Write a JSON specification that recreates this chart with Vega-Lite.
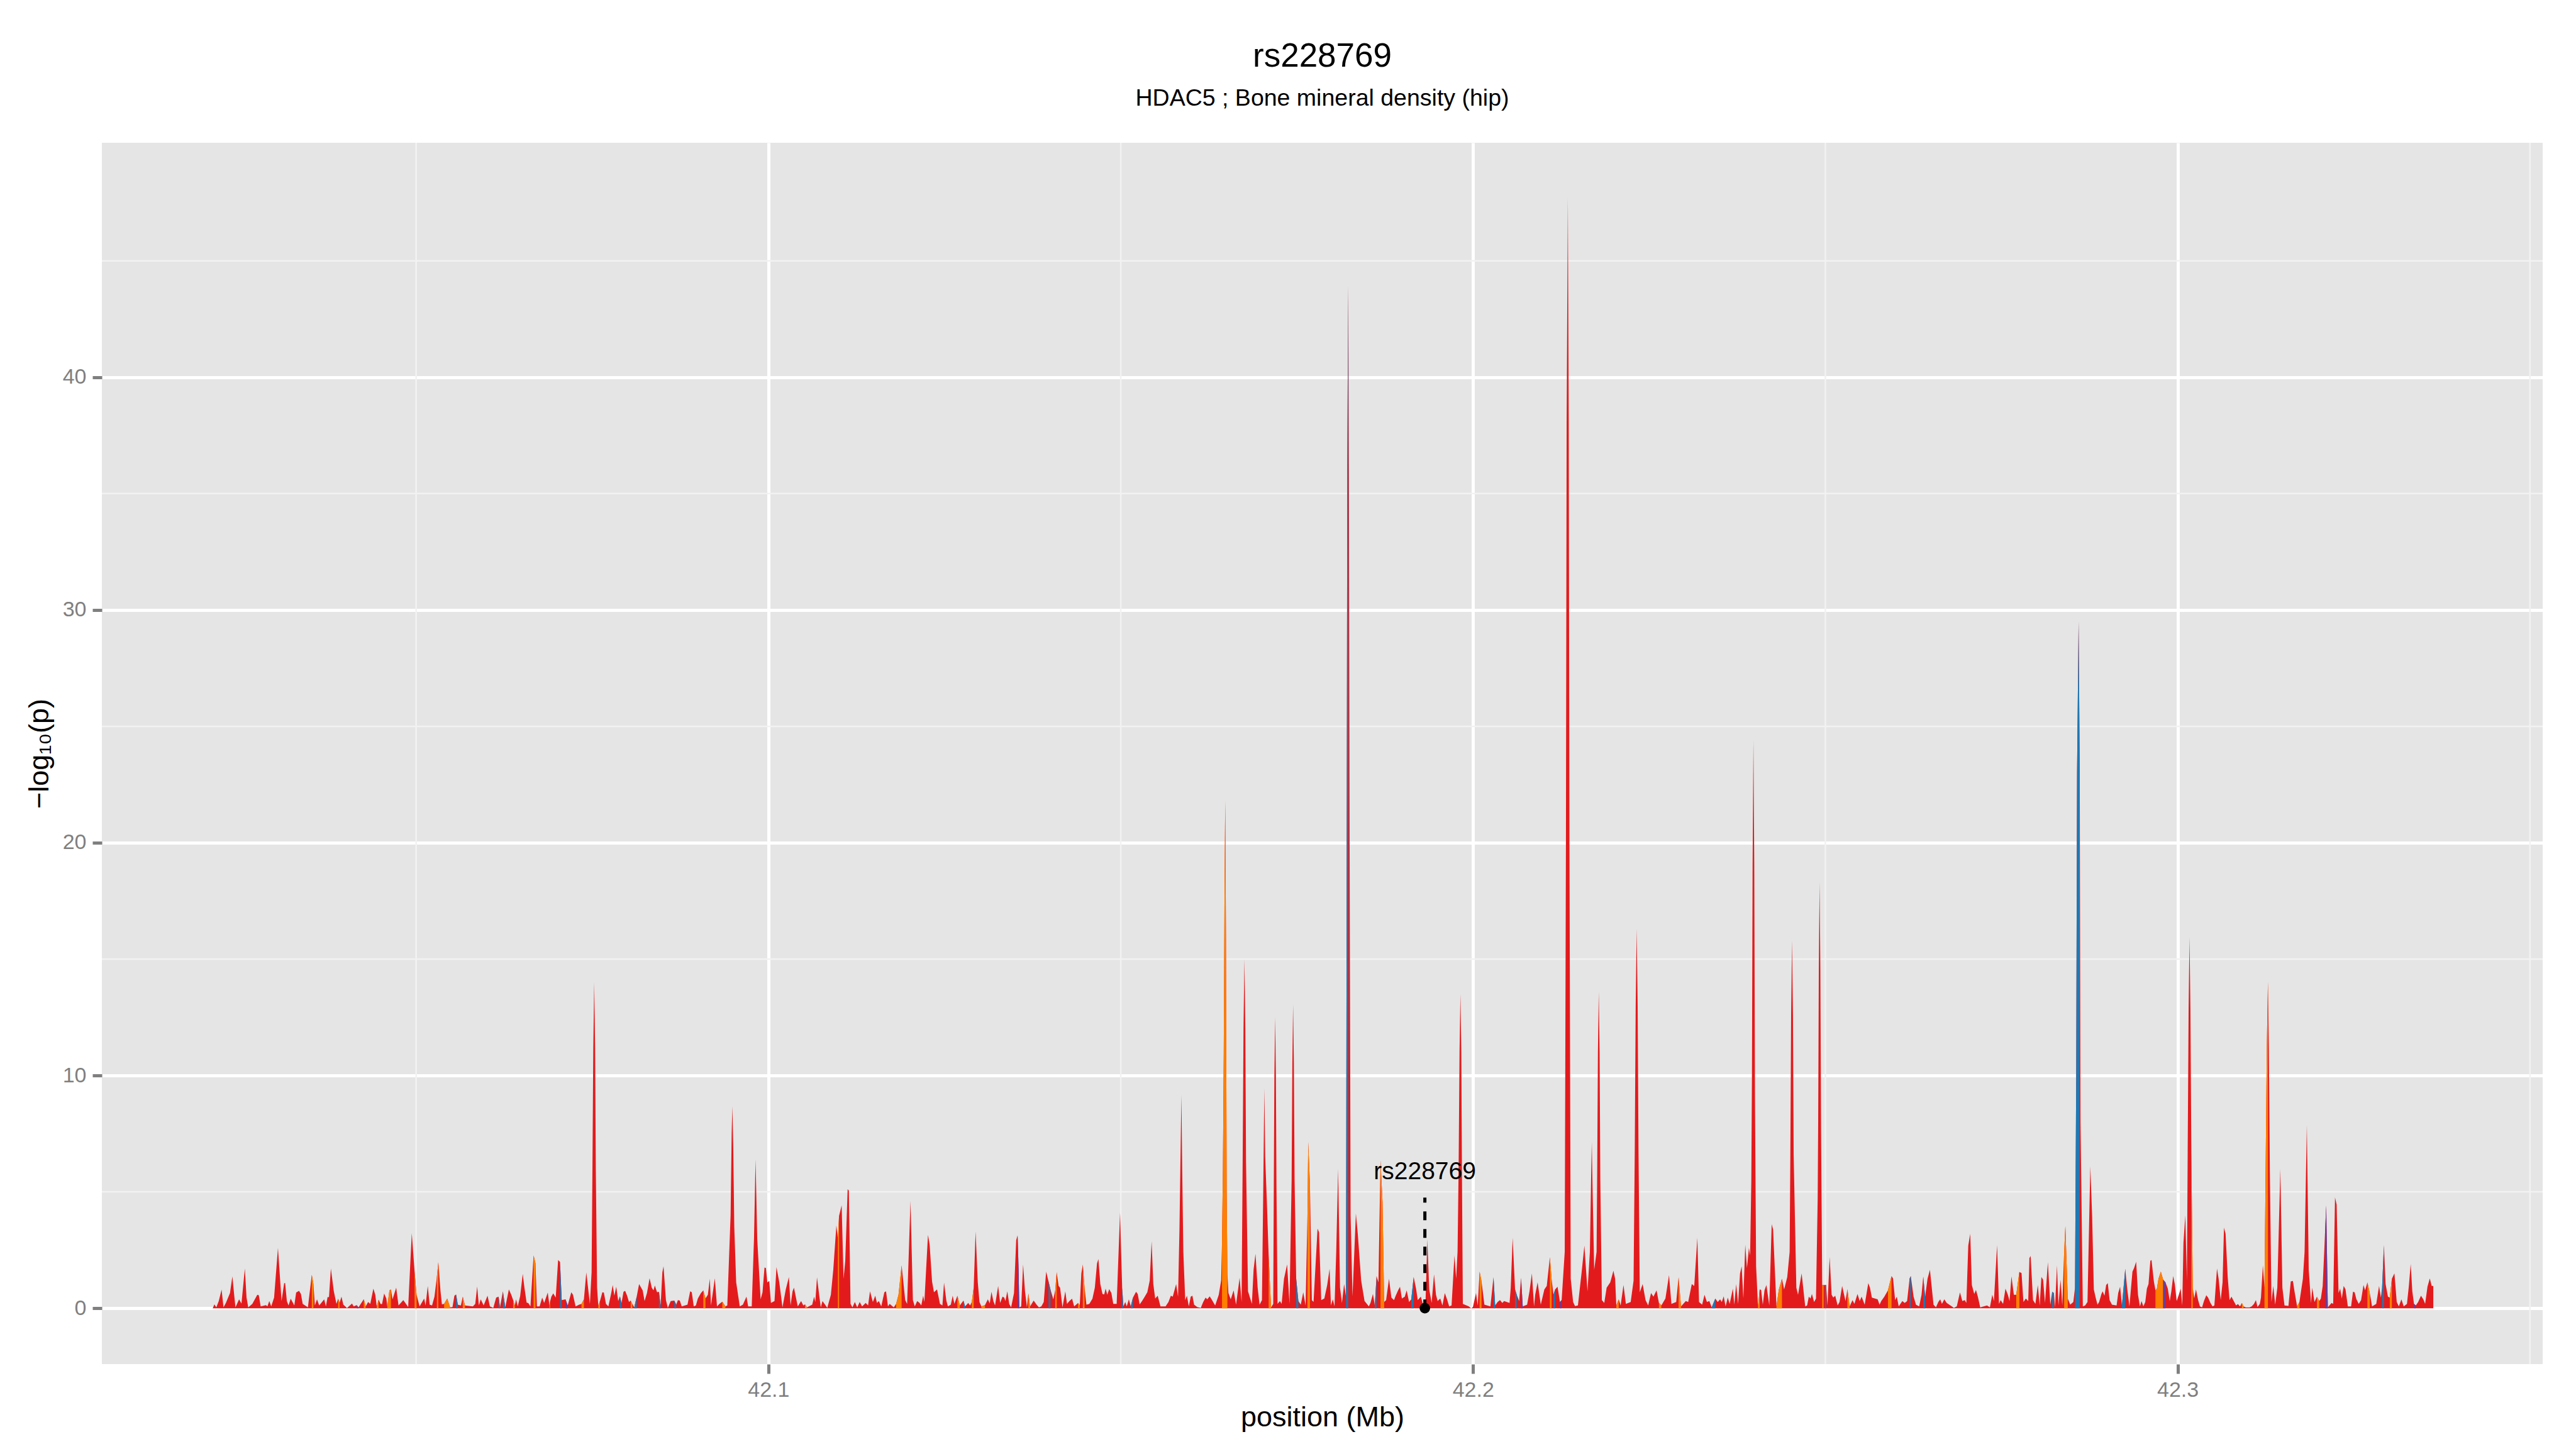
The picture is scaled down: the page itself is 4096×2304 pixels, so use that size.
{
"$schema":"https://vega.github.io/schema/vega-lite/v6.json",
"width":3881,"height":1942,
"autosize":{"type":"none"},
"padding":{"left":162,"top":227,"right":53,"bottom":135},
"background":"#FFFFFF",
"config":{"view":{"fill":"#E5E5E5","stroke":null},"font":"Liberation Sans"},
"title":{"text":"rs228769","subtitle":"HDAC5 ; Bone mineral density (hip)","anchor":"middle","frame":"group","font":"Liberation Sans","subtitleFont":"Liberation Sans","fontSize":53,"subtitleFontSize":37.5,"fontWeight":"normal","subtitleFontWeight":"normal","color":"#000000","subtitleColor":"#000000","offset":50,"subtitlePadding":21},
"datasets":{
"gx":[{"v":42.05},{"v":42.15},{"v":42.25},{"v":42.35}],
"gy":[{"v":5},{"v":15},{"v":25},{"v":35},{"v":45}],
"ann":[{"x":42.19316,"y":0,"y2":4.75,"ty":5.55,"label":"rs228769"}],
"main":[
{"x":42.02113,"y":0},{"x":42.02137,"y":0.17},{"x":42.02164,"y":0.04},{"x":42.02198,"y":0.3},{"x":42.02239,"y":0.8},{"x":42.02266,"y":0.04},{"x":42.023,"y":0.23},{"x":42.02358,"y":0.65},{"x":42.02392,"y":1.37},{"x":42.0242,"y":0.5},{"x":42.02436,"y":0.04},{"x":42.02487,"y":0.38},{"x":42.02521,"y":0.2},{"x":42.02569,"y":1.71},{"x":42.02593,"y":0.46},{"x":42.02617,"y":0.04},{"x":42.02675,"y":0.19},{"x":42.02746,"y":0.58},{"x":42.02767,"y":0.56},{"x":42.02794,"y":0.08},{"x":42.02869,"y":0.13},{"x":42.02889,"y":0.08},{"x":42.02916,"y":0.31},{"x":42.02943,"y":0.08},{"x":42.02984,"y":0.46},{"x":42.03039,"y":2.59},{"x":42.0309,"y":0.31},{"x":42.03127,"y":1.08},{"x":42.03141,"y":1.08},{"x":42.03165,"y":0.31},{"x":42.03189,"y":0.12},{"x":42.0322,"y":0.41},{"x":42.03271,"y":0.12},{"x":42.03297,"y":0.67},{"x":42.03338,"y":0.75},{"x":42.03365,"y":0.61},{"x":42.0339,"y":0.19},{"x":42.03464,"y":0.04},{"x":42.03519,"y":1.44},{"x":42.03542,"y":1.04},{"x":42.03563,"y":0.12},{"x":42.03593,"y":0.38},{"x":42.03624,"y":0.12},{"x":42.03695,"y":0.38},{"x":42.03719,"y":0.08},{"x":42.03743,"y":0.48},{"x":42.03763,"y":0.48},{"x":42.0379,"y":1.71},{"x":42.03831,"y":0.74},{"x":42.03869,"y":0.19},{"x":42.03893,"y":0.41},{"x":42.03913,"y":0.23},{"x":42.0394,"y":0.5},{"x":42.03967,"y":0.15},{"x":42.04019,"y":0.01},{"x":42.0409,"y":0.2},{"x":42.04114,"y":0.08},{"x":42.04155,"y":0.13},{"x":42.04182,"y":0.04},{"x":42.04257,"y":0.39},{"x":42.04284,"y":0.08},{"x":42.04318,"y":0.27},{"x":42.04349,"y":0.19},{"x":42.04393,"y":0.84},{"x":42.0442,"y":0.58},{"x":42.04441,"y":0.08},{"x":42.04468,"y":0.37},{"x":42.04495,"y":0.18},{"x":42.04516,"y":0.18},{"x":42.04546,"y":0.63},{"x":42.04577,"y":0.42},{"x":42.04591,"y":0.08},{"x":42.04621,"y":0.77},{"x":42.04642,"y":0.81},{"x":42.04665,"y":0.38},{"x":42.04717,"y":0.88},{"x":42.0475,"y":0.12},{"x":42.04818,"y":0.35},{"x":42.04887,"y":0.05},{"x":42.04938,"y":3.23},{"x":42.04978,"y":1.58},{"x":42.05006,"y":0.58},{"x":42.05049,"y":0.08},{"x":42.05114,"y":0.42},{"x":42.05134,"y":0.12},{"x":42.05165,"y":0.96},{"x":42.05192,"y":0.15},{"x":42.05226,"y":0.12},{"x":42.0526,"y":0.5},{"x":42.05294,"y":1.34},{"x":42.05315,"y":1.98},{"x":42.05346,"y":0.73},{"x":42.05366,"y":0.17},{"x":42.05397,"y":0.19},{"x":42.05441,"y":0.42},{"x":42.05482,"y":0.04},{"x":42.05516,"y":0.05},{"x":42.05543,"y":0.54},{"x":42.05567,"y":0.59},{"x":42.05591,"y":0.15},{"x":42.05635,"y":0.12},{"x":42.05662,"y":0.5},{"x":42.05693,"y":0.12},{"x":42.05805,"y":0.08},{"x":42.05839,"y":0.19},{"x":42.05866,"y":0.94},{"x":42.0589,"y":0.12},{"x":42.05917,"y":0.38},{"x":42.05958,"y":0.12},{"x":42.06013,"y":0.54},{"x":42.06047,"y":0.08},{"x":42.06095,"y":0.02},{"x":42.06136,"y":0.46},{"x":42.0617,"y":0.5},{"x":42.0619,"y":0.04},{"x":42.06231,"y":0.73},{"x":42.06265,"y":0.04},{"x":42.06316,"y":0.81},{"x":42.0635,"y":0.58},{"x":42.06377,"y":0.35},{"x":42.06401,"y":0.12},{"x":42.06418,"y":0.38},{"x":42.06442,"y":0.08},{"x":42.06476,"y":0.52},{"x":42.06513,"y":1.48},{"x":42.06537,"y":0.88},{"x":42.06568,"y":0.24},{"x":42.06592,"y":0.22},{"x":42.06622,"y":0.08},{"x":42.06667,"y":2.27},{"x":42.06694,"y":1.92},{"x":42.06714,"y":0.08},{"x":42.06752,"y":0.08},{"x":42.06789,"y":0.46},{"x":42.06817,"y":0.23},{"x":42.06868,"y":0.67},{"x":42.06892,"y":0.12},{"x":42.06902,"y":0.3},{"x":42.06919,"y":0.5},{"x":42.06946,"y":0.64},{"x":42.06981,"y":0.46},{"x":42.07015,"y":2.07},{"x":42.07042,"y":1.99},{"x":42.07066,"y":0.35},{"x":42.0712,"y":0.38},{"x":42.07151,"y":0.12},{"x":42.07202,"y":0.69},{"x":42.07226,"y":0.58},{"x":42.07263,"y":0.08},
{"x":42.07313,"y":0.15},{"x":42.07347,"y":0.19},{"x":42.07381,"y":0.38},{"x":42.07415,"y":1.54},{"x":42.07466,"y":0.19},{"x":42.0749,"y":1.54},{"x":42.07502,"y":6.0},{"x":42.07514,"y":11.2},{"x":42.07527,"y":14.0},{"x":42.0754,"y":11.2},{"x":42.0755,"y":6.0},{"x":42.07568,"y":0.88},{"x":42.07585,"y":0.12},{"x":42.07609,"y":0.31},{"x":42.07643,"y":0.69},{"x":42.07664,"y":0.67},{"x":42.07694,"y":0.19},{"x":42.07728,"y":0.08},{"x":42.07766,"y":0.61},{"x":42.0779,"y":1.0},{"x":42.07813,"y":0.54},{"x":42.0784,"y":0.92},{"x":42.07868,"y":0.31},{"x":42.07892,"y":0.51},{"x":42.07915,"y":0.23},{"x":42.07943,"y":0.71},{"x":42.07966,"y":0.75},{"x":42.07994,"y":0.54},{"x":42.08021,"y":0.27},{"x":42.08045,"y":0.33},{"x":42.08068,"y":0.19},{"x":42.08096,"y":0.04},{"x":42.0813,"y":0.5},{"x":42.08164,"y":1.04},{"x":42.08215,"y":0.77},{"x":42.08242,"y":0.31},{"x":42.08276,"y":0.65},{"x":42.08313,"y":1.29},{"x":42.08344,"y":0.88},{"x":42.08368,"y":0.77},{"x":42.08388,"y":0.98},{"x":42.08419,"y":0.69},{"x":42.08446,"y":0.71},{"x":42.0847,"y":0.12},{"x":42.08494,"y":1.54},{"x":42.08511,"y":1.8},{"x":42.08545,"y":0.35},{"x":42.08572,"y":0.02},{"x":42.08613,"y":0.31},{"x":42.08664,"y":0.33},{"x":42.08691,"y":0.15},{"x":42.08715,"y":0.35},{"x":42.08742,"y":0.33},{"x":42.08769,"y":0.08},{"x":42.08851,"y":0.15},{"x":42.08889,"y":0.73},{"x":42.08912,"y":0.69},{"x":42.0894,"y":0.08},{"x":42.0897,"y":0.12},{"x":42.08998,"y":0.42},{"x":42.09042,"y":0.65},{"x":42.09076,"y":0.77},{"x":42.09106,"y":0.42},{"x":42.0914,"y":0.58},{"x":42.09168,"y":1.27},{"x":42.09185,"y":0.12},{"x":42.09239,"y":1.29},{"x":42.0927,"y":0.08},{"x":42.09304,"y":0.19},{"x":42.09345,"y":0.28},{"x":42.09389,"y":0.08},{"x":42.09416,"y":0.12},{"x":42.09463,"y":4.0},{"x":42.09478,"y":7.5},{"x":42.09488,"y":8.68},{"x":42.095,"y":7.0},{"x":42.09515,"y":3.5},{"x":42.09542,"y":1.11},{"x":42.09593,"y":0.08},{"x":42.09637,"y":0.15},{"x":42.09688,"y":0.5},{"x":42.09712,"y":0.08},{"x":42.09763,"y":0.08},{"x":42.09795,"y":3.0},{"x":42.09817,"y":6.4},{"x":42.09841,"y":2.96},{"x":42.09889,"y":0.38},{"x":42.09916,"y":0.69},{"x":42.09944,"y":1.75},{"x":42.09964,"y":1.73},{"x":42.09984,"y":1.11},{"x":42.10012,"y":1.17},{"x":42.10035,"y":0.23},{"x":42.10086,"y":0.31},{"x":42.10114,"y":1.77},{"x":42.10154,"y":1.11},{"x":42.10199,"y":0.04},{"x":42.10246,"y":0.81},{"x":42.1029,"y":1.34},{"x":42.10314,"y":0.12},{"x":42.10342,"y":0.73},{"x":42.10362,"y":0.88},{"x":42.10416,"y":0.08},{"x":42.10464,"y":0.31},{"x":42.10495,"y":0.12},{"x":42.10519,"y":0.17},{"x":42.10546,"y":0.04},{"x":42.10621,"y":0.15},{"x":42.10648,"y":0.5},{"x":42.10665,"y":0.27},{"x":42.10689,"y":1.33},{"x":42.10723,"y":0.5},{"x":42.10743,"y":0.04},{"x":42.10767,"y":0.31},{"x":42.10835,"y":0.02},{"x":42.10886,"y":0.58},{"x":42.1092,"y":1.65},{"x":42.10964,"y":3.56},{"x":42.10985,"y":3.0},{"x":42.11002,"y":3.96},{"x":42.11039,"y":4.42},{"x":42.11066,"y":1.27},{"x":42.1109,"y":2.04},{"x":42.11124,"y":5.12},{"x":42.11141,"y":5.05},{"x":42.11165,"y":0.19},{"x":42.11192,"y":0.04},{"x":42.11226,"y":0.27},{"x":42.1126,"y":0.04},{"x":42.11295,"y":0.27},{"x":42.11329,"y":0.08},{"x":42.1138,"y":0.23},{"x":42.11414,"y":0.12},{"x":42.11441,"y":0.73},{"x":42.11482,"y":0.27},{"x":42.11516,"y":0.54},{"x":42.1154,"y":0.23},{"x":42.11567,"y":0.31},{"x":42.11601,"y":0.08},{"x":42.11645,"y":0.69},{"x":42.11669,"y":0.73},{"x":42.11696,"y":0.08},{"x":42.1172,"y":0.19},{"x":42.11778,"y":0.04},{"x":42.11812,"y":0.19},{"x":42.11846,"y":0.58},{"x":42.1189,"y":1.84},{"x":42.11941,"y":0.35},{"x":42.11968,"y":0.19},{"x":42.12016,"y":4.61},{"x":42.1205,"y":0.35},{"x":42.12077,"y":0.08},{"x":42.12111,"y":0.31},{"x":42.12145,"y":0.23},{"x":42.12169,"y":0.12},{"x":42.12196,"y":0.54},{"x":42.12213,"y":0.27},{"x":42.12264,"y":3.15},{"x":42.12288,"y":2.73},{"x":42.12322,"y":1.15},{"x":42.12349,"y":0.69},{"x":42.12393,"y":0.81},{"x":42.12434,"y":0.19},{"x":42.12469,"y":0.12},{"x":42.12492,"y":1.1},{"x":42.12526,"y":0.31},{"x":42.12547,"y":0.08},{"x":42.12588,"y":0.15},{"x":42.12615,"y":0.54},{"x":42.12639,"y":0.19},
{"x":42.12648,"y":0.27},{"x":42.12682,"y":0.54},{"x":42.12716,"y":0.12},{"x":42.12767,"y":0.33},{"x":42.12791,"y":0.08},{"x":42.12835,"y":0.23},{"x":42.12862,"y":0.12},{"x":42.12886,"y":0.27},{"x":42.12913,"y":0.88},{"x":42.1294,"y":3.3},{"x":42.12971,"y":1.11},{"x":42.12995,"y":0.27},{"x":42.13022,"y":0.08},{"x":42.13073,"y":0.13},{"x":42.13114,"y":0.38},{"x":42.13141,"y":0.21},{"x":42.13165,"y":0.71},{"x":42.13192,"y":0.31},{"x":42.13216,"y":0.12},{"x":42.1326,"y":0.96},{"x":42.13288,"y":0.23},{"x":42.13322,"y":0.5},{"x":42.13346,"y":0.46},{"x":42.13363,"y":0.31},{"x":42.1339,"y":0.73},{"x":42.13417,"y":0.19},{"x":42.13444,"y":0.04},{"x":42.13485,"y":0.65},{"x":42.13516,"y":2.92},{"x":42.13536,"y":3.13},{"x":42.1355,"y":1.65},{"x":42.1356,"y":0.04},{"x":42.13587,"y":0.08},{"x":42.13614,"y":1.88},{"x":42.13641,"y":0.73},{"x":42.13669,"y":0.04},{"x":42.13689,"y":0.64},{"x":42.13713,"y":0.08},{"x":42.13764,"y":0.33},{"x":42.13805,"y":0.15},{"x":42.13839,"y":0.04},{"x":42.13873,"y":0.08},{"x":42.13907,"y":0.27},{"x":42.13941,"y":1.57},{"x":42.13975,"y":1.15},{"x":42.14002,"y":0.81},{"x":42.14043,"y":0.38},{"x":42.1407,"y":0.77},{"x":42.14091,"y":1.55},{"x":42.14118,"y":0.96},{"x":42.14139,"y":0.88},{"x":42.14173,"y":0.04},{"x":42.14213,"y":0.73},{"x":42.14237,"y":0.19},{"x":42.14271,"y":0.31},{"x":42.14309,"y":0.41},{"x":42.14339,"y":0.08},{"x":42.14394,"y":0.23},{"x":42.14418,"y":0.12},{"x":42.14441,"y":1.5},{"x":42.14462,"y":1.88},{"x":42.14486,"y":0.88},{"x":42.14513,"y":0.15},{"x":42.14554,"y":0.19},{"x":42.14598,"y":0.41},{"x":42.14632,"y":0.88},{"x":42.14663,"y":1.92},{"x":42.14683,"y":2.11},{"x":42.1471,"y":1.04},{"x":42.14741,"y":0.61},{"x":42.14765,"y":0.59},{"x":42.14785,"y":0.84},{"x":42.14809,"y":0.58},{"x":42.14836,"y":0.82},{"x":42.14867,"y":0.65},{"x":42.14894,"y":0.19},{"x":42.14942,"y":0.19},{"x":42.1499,"y":4.11},{"x":42.1502,"y":0.88},{"x":42.15037,"y":0.08},{"x":42.15064,"y":0.27},{"x":42.15085,"y":0.08},{"x":42.15115,"y":0.38},{"x":42.15142,"y":0.08},{"x":42.15173,"y":0.46},{"x":42.15217,"y":0.71},{"x":42.15241,"y":0.61},{"x":42.15268,"y":0.17},{"x":42.15302,"y":0.31},{"x":42.15343,"y":0.51},{"x":42.15377,"y":0.69},{"x":42.15411,"y":1.19},{"x":42.15438,"y":2.88},{"x":42.15462,"y":1.04},{"x":42.15489,"y":0.42},{"x":42.15524,"y":0.54},{"x":42.15564,"y":0.08},{"x":42.15636,"y":0.08},{"x":42.15677,"y":0.27},{"x":42.15711,"y":0.54},{"x":42.15738,"y":0.5},{"x":42.15786,"y":1.04},{"x":42.15813,"y":0.5},{"x":42.15833,"y":3.34},{"x":42.15848,"y":6.5},{"x":42.15861,"y":9.18},{"x":42.15872,"y":6.0},{"x":42.15888,"y":2.42},{"x":42.15915,"y":0.35},{"x":42.15939,"y":0.54},{"x":42.15966,"y":0.08},{"x":42.15993,"y":0.5},{"x":42.16017,"y":0.54},{"x":42.16041,"y":0.15},{"x":42.16085,"y":0.05},{"x":42.16136,"y":0.02},{"x":42.1617,"y":0.27},{"x":42.16204,"y":0.46},{"x":42.16228,"y":0.38},{"x":42.16262,"y":0.51},{"x":42.16289,"y":0.38},{"x":42.1634,"y":0.12},{"x":42.16391,"y":0.58},{"x":42.16425,"y":1.2},{"x":42.16437,"y":2.8},{"x":42.1645,"y":6.0},{"x":42.16462,"y":11.0},{"x":42.16473,"y":18.0},{"x":42.16483,"y":21.8},{"x":42.16493,"y":16.0},{"x":42.16503,"y":5.0},{"x":42.16513,"y":1.5},{"x":42.16528,"y":0.65},{"x":42.16561,"y":0.38},{"x":42.16602,"y":0.77},{"x":42.16636,"y":0.15},{"x":42.16687,"y":1.31},{"x":42.16715,"y":0.27},{"x":42.1673,"y":6.3},{"x":42.16742,"y":12.0},{"x":42.16755,"y":15.0},{"x":42.16768,"y":12.0},{"x":42.16778,"y":6.3},{"x":42.16806,"y":0.73},{"x":42.16861,"y":0.19},{"x":42.16885,"y":1.65},{"x":42.16912,"y":2.34},{"x":42.16943,"y":0.88},{"x":42.1697,"y":0.15},{"x":42.17004,"y":0.35},{"x":42.17022,"y":5.0},{"x":42.17038,"y":9.45},{"x":42.1705,"y":6.5},{"x":42.17072,"y":4.72},{"x":42.17099,"y":2.27},{"x":42.17133,"y":0.04},{"x":42.17164,"y":0.19},{"x":42.17172,"y":5.2},{"x":42.1718,"y":10.0},{"x":42.17191,"y":12.5},{"x":42.17202,"y":10.0},{"x":42.1721,"y":5.2},{"x":42.17225,"y":0.19},{"x":42.17259,"y":0.31},{"x":42.17283,"y":0.19},{"x":42.17317,"y":1.27},{"x":42.17361,"y":1.88},{"x":42.17395,"y":0.19},{"x":42.17425,"y":5.5},{"x":42.17435,"y":10.5},{"x":42.17446,"y":13.05},{"x":42.17457,"y":10.5},{"x":42.17467,"y":5.5},{"x":42.1749,"y":1.27},{"x":42.17521,"y":0.31},{"x":42.17555,"y":0.15},{"x":42.1759,"y":0.69},{"x":42.17623,"y":0.12},{"x":42.1765,"y":4.0},{"x":42.17661,"y":7.14},{"x":42.17685,"y":5.3},{"x":42.17712,"y":0.35},{"x":42.17736,"y":0.27},{"x":42.17793,"y":3.42},{"x":42.17814,"y":3.26},{"x":42.17845,"y":0.35},{"x":42.17889,"y":0.42},{"x":42.1793,"y":1.0},{"x":42.17964,"y":1.69},
{"x":42.17983,"y":0.12},{"x":42.1801,"y":0.38},{"x":42.18034,"y":0.08},{"x":42.18058,"y":2.42},{"x":42.18085,"y":5.99},{"x":42.18112,"y":0.88},{"x":42.18139,"y":0.23},{"x":42.1817,"y":1.04},{"x":42.18197,"y":0.5},{"x":42.18207,"y":20.0},{"x":42.18215,"y":36.0},{"x":42.18228,"y":43.9},{"x":42.18238,"y":36.0},{"x":42.18248,"y":20.0},{"x":42.18262,"y":4.0},{"x":42.18289,"y":0.5},{"x":42.18337,"y":4.07},{"x":42.18364,"y":3.19},{"x":42.18412,"y":1.19},{"x":42.1846,"y":0.31},{"x":42.18493,"y":0.19},{"x":42.18521,"y":0.08},{"x":42.18544,"y":0.23},{"x":42.18579,"y":0.61},{"x":42.18606,"y":0.12},{"x":42.1863,"y":1.38},{"x":42.18657,"y":1.11},{"x":42.18687,"y":6.34},{"x":42.18715,"y":4.57},{"x":42.18738,"y":0.27},{"x":42.18766,"y":0.35},{"x":42.18807,"y":1.27},{"x":42.18841,"y":0.46},{"x":42.18878,"y":0.35},{"x":42.18902,"y":0.54},{"x":42.18936,"y":0.77},{"x":42.18963,"y":0.92},{"x":42.1899,"y":0.42},{"x":42.19031,"y":0.5},{"x":42.19058,"y":0.77},{"x":42.19092,"y":0.27},{"x":42.19123,"y":0.38},{"x":42.19157,"y":1.34},{"x":42.19191,"y":0.84},{"x":42.19215,"y":0.35},{"x":42.19259,"y":0.5},{"x":42.19293,"y":0.12},{"x":42.19324,"y":0.12},{"x":42.19351,"y":2.96},{"x":42.19378,"y":0.81},{"x":42.19412,"y":0.23},{"x":42.19446,"y":1.46},{"x":42.19474,"y":0.58},{"x":42.19497,"y":0.31},{"x":42.19535,"y":0.42},{"x":42.19565,"y":0.12},{"x":42.19599,"y":0.65},{"x":42.19634,"y":0.35},{"x":42.19661,"y":0.08},{"x":42.19695,"y":0.12},{"x":42.19736,"y":2.27},{"x":42.1976,"y":1.27},{"x":42.1978,"y":2.42},{"x":42.19795,"y":6.0},{"x":42.19808,"y":11.0},{"x":42.19821,"y":13.5},{"x":42.19833,"y":11.0},{"x":42.19843,"y":5.5},{"x":42.19855,"y":0.19},{"x":42.1994,"y":0.08},{"x":42.19974,"y":0.0},{"x":42.19998,"y":0.05},{"x":42.20042,"y":0.65},{"x":42.20066,"y":0.12},{"x":42.20093,"y":1.57},{"x":42.2012,"y":1.15},{"x":42.20161,"y":0.15},{"x":42.20246,"y":0.08},{"x":42.2029,"y":1.34},{"x":42.20314,"y":0.12},{"x":42.20348,"y":0.27},{"x":42.20382,"y":0.35},{"x":42.20416,"y":0.23},{"x":42.2044,"y":0.31},{"x":42.20518,"y":0.23},{"x":42.20535,"y":0.88},{"x":42.20562,"y":3.03},{"x":42.20596,"y":0.81},{"x":42.2062,"y":0.58},{"x":42.20654,"y":0.31},{"x":42.20681,"y":1.31},{"x":42.20705,"y":0.08},{"x":42.20767,"y":0.15},{"x":42.20801,"y":0.73},{"x":42.20835,"y":1.5},{"x":42.20865,"y":0.08},{"x":42.20882,"y":0.58},{"x":42.20916,"y":1.11},{"x":42.20961,"y":0.15},{"x":42.21012,"y":0.81},{"x":42.21046,"y":0.96},{"x":42.2109,"y":2.19},{"x":42.21114,"y":1.27},{"x":42.21141,"y":0.58},{"x":42.21165,"y":0.81},{"x":42.21199,"y":0.92},{"x":42.21233,"y":0.27},{"x":42.21257,"y":0.35},{"x":42.21301,"y":2.42},{"x":42.21318,"y":20.0},{"x":42.21328,"y":38.0},{"x":42.21345,"y":47.7},{"x":42.21358,"y":38.0},{"x":42.21368,"y":20.0},{"x":42.21386,"y":1.27},{"x":42.2142,"y":0.27},{"x":42.21447,"y":0.09},{"x":42.21488,"y":0.12},{"x":42.21539,"y":1.5},{"x":42.2158,"y":2.69},{"x":42.21624,"y":0.73},{"x":42.21658,"y":2.42},{"x":42.21675,"y":5.5},{"x":42.21685,"y":7.14},{"x":42.21697,"y":5.0},{"x":42.21719,"y":1.65},{"x":42.21753,"y":2.42},{"x":42.21762,"y":6.0},{"x":42.21772,"y":11.0},{"x":42.21784,"y":13.6},{"x":42.21796,"y":11.0},{"x":42.21806,"y":5.5},{"x":42.21828,"y":0.35},{"x":42.21862,"y":0.23},{"x":42.21896,"y":0.88},{"x":42.21947,"y":1.11},{"x":42.21992,"y":1.61},{"x":42.22016,"y":1.27},{"x":42.22033,"y":0.12},{"x":42.22067,"y":0.38},{"x":42.22094,"y":0.12},{"x":42.22135,"y":1.0},{"x":42.22169,"y":0.19},{"x":42.22237,"y":0.27},{"x":42.22278,"y":1.19},{"x":42.22295,"y":6.8},{"x":42.22308,"y":13.0},{"x":42.22322,"y":16.3},{"x":42.22336,"y":13.0},{"x":42.22348,"y":6.8},{"x":42.22366,"y":0.69},{"x":42.22407,"y":1.04},{"x":42.22448,"y":0.35},{"x":42.22485,"y":0.12},{"x":42.22526,"y":0.65},{"x":42.2256,"y":0.5},{"x":42.22604,"y":0.77},{"x":42.22638,"y":0.23},{"x":42.22672,"y":0.12},{"x":42.2273,"y":0.42},{"x":42.22781,"y":1.42},{"x":42.22815,"y":0.19},{"x":42.22883,"y":0.27},{"x":42.22917,"y":1.33},{"x":42.22951,"y":0.08},{"x":42.23019,"y":0.31},{"x":42.23053,"y":0.27},{"x":42.23104,"y":1.04},{"x":42.23139,"y":0.96},{"x":42.23183,"y":3.03},{"x":42.23207,"y":0.27},{"x":42.23251,"y":0.15},{"x":42.23285,"y":0.58},
{"x":42.23319,"y":0.27},{"x":42.23353,"y":0.31},{"x":42.23387,"y":0.04},{"x":42.23438,"y":0.42},{"x":42.23472,"y":0.27},{"x":42.23506,"y":0.38},{"x":42.2353,"y":0.27},{"x":42.23557,"y":0.51},{"x":42.23584,"y":0.08},{"x":42.23615,"y":0.46},{"x":42.23642,"y":0.19},{"x":42.23687,"y":0.84},{"x":42.23707,"y":0.15},{"x":42.23734,"y":1.04},{"x":42.23761,"y":0.19},{"x":42.23789,"y":1.5},{"x":42.23812,"y":1.8},{"x":42.23836,"y":0.42},{"x":42.23863,"y":2.73},{"x":42.23887,"y":1.73},{"x":42.23915,"y":2.59},{"x":42.23932,"y":2.27},{"x":42.23949,"y":5.49},{"x":42.23958,"y":10.0},{"x":42.23967,"y":19.0},{"x":42.23979,"y":24.4},{"x":42.23991,"y":19.0},{"x":42.24001,"y":9.0},{"x":42.24017,"y":1.8},{"x":42.24044,"y":0.08},{"x":42.24068,"y":0.81},{"x":42.24088,"y":0.79},{"x":42.24112,"y":0.15},{"x":42.24136,"y":0.77},{"x":42.24163,"y":1.0},{"x":42.24204,"y":0.12},{"x":42.24238,"y":3.61},{"x":42.24258,"y":3.38},{"x":42.24306,"y":0.08},{"x":42.2434,"y":0.81},{"x":42.24384,"y":1.27},{"x":42.24415,"y":0.81},{"x":42.24459,"y":1.34},{"x":42.24493,"y":2.42},{"x":42.24503,"y":6.6},{"x":42.24514,"y":12.6},{"x":42.24527,"y":15.8},{"x":42.2454,"y":12.6},{"x":42.2455,"y":6.6},{"x":42.24588,"y":0.88},{"x":42.24612,"y":0.58},{"x":42.24663,"y":1.5},{"x":42.24714,"y":0.08},{"x":42.24741,"y":0.12},{"x":42.24765,"y":0.5},{"x":42.24789,"y":0.42},{"x":42.24809,"y":0.61},{"x":42.2484,"y":0.27},{"x":42.24867,"y":0.42},{"x":42.24891,"y":4.72},{"x":42.24898,"y":8.0},{"x":42.24907,"y":14.6},{"x":42.24918,"y":18.3},{"x":42.24929,"y":14.6},{"x":42.24939,"y":7.6},{"x":42.24955,"y":1.0},{"x":42.24975,"y":1.0},{"x":42.24995,"y":1.0},{"x":42.2501,"y":1.0},{"x":42.2503,"y":0.12},{"x":42.25061,"y":2.2},{"x":42.25089,"y":0.58},{"x":42.25112,"y":0.46},{"x":42.2514,"y":0.54},{"x":42.25174,"y":0.12},{"x":42.25201,"y":0.27},{"x":42.25238,"y":0.96},{"x":42.25286,"y":0.31},{"x":42.25313,"y":0.82},{"x":42.25344,"y":0.08},{"x":42.25385,"y":0.35},{"x":42.25412,"y":0.19},{"x":42.25456,"y":0.61},{"x":42.25487,"y":0.31},{"x":42.25514,"y":0.5},{"x":42.25558,"y":0.15},{"x":42.25609,"y":1.08},{"x":42.25633,"y":0.88},{"x":42.2566,"y":0.46},{"x":42.25742,"y":0.38},{"x":42.25769,"y":0.15},{"x":42.25793,"y":0.31},{"x":42.25837,"y":0.5},{"x":42.25888,"y":0.77},{"x":42.25939,"y":1.38},{"x":42.2596,"y":1.28},{"x":42.2599,"y":0.35},{"x":42.26014,"y":0.5},{"x":42.26041,"y":0.08},{"x":42.26092,"y":0.31},{"x":42.26126,"y":0.23},{"x":42.2616,"y":0.31},{"x":42.26195,"y":1.27},{"x":42.26212,"y":1.38},{"x":42.26252,"y":0.5},{"x":42.26286,"y":0.15},{"x":42.26331,"y":0.08},{"x":42.26365,"y":0.58},{"x":42.26389,"y":1.36},{"x":42.26416,"y":0.5},{"x":42.2645,"y":1.27},{"x":42.26484,"y":1.65},{"x":42.26535,"y":0.15},{"x":42.26569,"y":0.04},{"x":42.26603,"y":0.27},{"x":42.2663,"y":0.38},{"x":42.26654,"y":0.19},{"x":42.26688,"y":0.38},{"x":42.26722,"y":0.23},{"x":42.26824,"y":0.02},{"x":42.26865,"y":0.08},{"x":42.2691,"y":0.68},{"x":42.26944,"y":0.31},{"x":42.26978,"y":0.35},{"x":42.27001,"y":0.23},{"x":42.27028,"y":2.69},{"x":42.27056,"y":3.2},{"x":42.27079,"y":1.0},{"x":42.27113,"y":0.61},{"x":42.27137,"y":0.79},{"x":42.27164,"y":0.5},{"x":42.27198,"y":0.04},{"x":42.27294,"y":0.12},{"x":42.27335,"y":0.04},{"x":42.27369,"y":0.58},{"x":42.27392,"y":0.31},{"x":42.27437,"y":2.71},{"x":42.27464,"y":0.19},{"x":42.27488,"y":0.35},{"x":42.27522,"y":0.19},{"x":42.27556,"y":0.84},{"x":42.2759,"y":0.58},{"x":42.27614,"y":0.31},{"x":42.27641,"y":1.37},{"x":42.27675,"y":0.58},{"x":42.27709,"y":0.58},{"x":42.27753,"y":1.56},{"x":42.27784,"y":1.51},{"x":42.27811,"y":0.27},{"x":42.27845,"y":0.42},{"x":42.27879,"y":0.31},{"x":42.27896,"y":2.15},{"x":42.27913,"y":2.25},{"x":42.27947,"y":0.35},{"x":42.27981,"y":0.19},{"x":42.28015,"y":1.0},{"x":42.28042,"y":0.12},{"x":42.28066,"y":1.34},{"x":42.2809,"y":1.23},{"x":42.28117,"y":0.23},{"x":42.28158,"y":1.98},{"x":42.28192,"y":0.15},{"x":42.28219,"y":0.71},{"x":42.28243,"y":0.65},{"x":42.2826,"y":0.04},{"x":42.28287,"y":1.84},{"x":42.28308,"y":0.12},{"x":42.28338,"y":1.23},{"x":42.28362,"y":0.12},{"x":42.28389,"y":2.42},{"x":42.28406,"y":3.53},{"x":42.2844,"y":0.42},{"x":42.28475,"y":0.15},{"x":42.28519,"y":0.27},{"x":42.28543,"y":0.88},{"x":42.2856,"y":10.0},{"x":42.28572,"y":23.0},{"x":42.28594,"y":29.5},{"x":42.2861,"y":23.0},{"x":42.28621,"y":8.0},
{"x":42.28654,"y":0.08},{"x":42.28687,"y":0.12},{"x":42.2872,"y":0.27},{"x":42.2876,"y":6.1},{"x":42.28786,"y":3.96},{"x":42.2881,"y":0.81},{"x":42.28836,"y":0.46},{"x":42.28862,"y":0.15},{"x":42.28885,"y":0.27},{"x":42.28918,"y":0.61},{"x":42.28935,"y":0.73},{"x":42.28961,"y":0.54},{"x":42.28985,"y":1.0},{"x":42.29008,"y":1.08},{"x":42.29034,"y":0.35},{"x":42.29067,"y":0.15},{"x":42.29133,"y":0.12},{"x":42.29156,"y":0.65},{"x":42.29183,"y":0.92},{"x":42.29209,"y":0.12},{"x":42.29256,"y":1.69},{"x":42.29282,"y":0.88},{"x":42.29315,"y":0.08},{"x":42.29358,"y":1.57},{"x":42.29381,"y":1.73},{"x":42.29411,"y":2.0},{"x":42.29437,"y":0.58},{"x":42.29464,"y":0.08},{"x":42.29487,"y":0.31},{"x":42.29513,"y":0.08},{"x":42.2954,"y":0.27},{"x":42.29563,"y":0.84},{"x":42.29586,"y":1.04},{"x":42.29612,"y":2.04},{"x":42.29629,"y":2.07},{"x":42.29662,"y":1.15},{"x":42.29685,"y":0.77},{"x":42.29705,"y":0.84},{"x":42.29728,"y":1.27},{"x":42.29761,"y":1.57},{"x":42.29794,"y":1.23},{"x":42.29827,"y":1.11},{"x":42.2986,"y":0.84},{"x":42.29887,"y":0.31},{"x":42.2991,"y":0.73},{"x":42.29936,"y":1.38},{"x":42.29959,"y":1.04},{"x":42.29986,"y":0.31},{"x":42.30016,"y":0.58},{"x":42.30042,"y":0.84},{"x":42.30065,"y":0.12},{"x":42.30082,"y":2.8},{"x":42.30108,"y":3.99},{"x":42.30131,"y":1.19},{"x":42.30142,"y":6.7},{"x":42.30155,"y":12.8},{"x":42.30168,"y":15.95},{"x":42.30181,"y":12.8},{"x":42.30194,"y":6.7},{"x":42.30214,"y":0.88},{"x":42.30234,"y":0.42},{"x":42.3026,"y":0.81},{"x":42.3029,"y":0.35},{"x":42.30316,"y":0.08},{"x":42.30346,"y":0.04},{"x":42.30373,"y":0.31},{"x":42.30406,"y":0.56},{"x":42.30432,"y":0.46},{"x":42.30465,"y":0.23},{"x":42.30495,"y":0.08},{"x":42.30521,"y":0.12},{"x":42.30558,"y":1.71},{"x":42.30581,"y":1.27},{"x":42.30611,"y":0.35},{"x":42.30637,"y":1.11},{"x":42.30657,"y":3.46},{"x":42.3068,"y":3.19},{"x":42.3071,"y":1.34},{"x":42.30736,"y":0.35},{"x":42.30763,"y":0.5},{"x":42.30796,"y":0.31},{"x":42.30829,"y":0.12},{"x":42.30855,"y":0.18},{"x":42.30885,"y":0.08},{"x":42.30911,"y":0.23},{"x":42.30934,"y":0.08},{"x":42.30967,"y":0.04},{"x":42.3102,"y":0.04},{"x":42.3105,"y":0.08},{"x":42.31083,"y":0.19},{"x":42.3111,"y":0.35},{"x":42.31133,"y":0.05},{"x":42.31166,"y":0.19},{"x":42.31182,"y":0.46},{"x":42.31209,"y":1.84},{"x":42.31232,"y":0.88},{"x":42.31248,"y":5.9},{"x":42.31265,"y":11.2},{"x":42.31281,"y":14.0},{"x":42.31294,"y":11.2},{"x":42.31308,"y":5.9},{"x":42.31331,"y":0.27},{"x":42.31357,"y":0.96},{"x":42.31384,"y":0.15},{"x":42.31414,"y":0.88},{"x":42.31457,"y":5.99},{"x":42.31486,"y":0.88},{"x":42.31516,"y":0.12},{"x":42.31572,"y":0.1},{"x":42.31605,"y":1.15},{"x":42.31635,"y":1.17},{"x":42.31662,"y":0.65},{"x":42.31695,"y":0.08},{"x":42.31728,"y":0.27},{"x":42.31777,"y":1.27},{"x":42.31801,"y":2.42},{"x":42.31833,"y":7.87},{"x":42.3186,"y":1.65},{"x":42.31893,"y":0.23},{"x":42.31909,"y":0.88},{"x":42.31942,"y":0.27},{"x":42.31976,"y":0.5},{"x":42.32009,"y":0.31},{"x":42.32032,"y":0.41},{"x":42.32058,"y":0.96},{"x":42.32091,"y":3.19},{"x":42.32108,"y":4.42},{"x":42.32131,"y":0.04},{"x":42.32184,"y":0.23},{"x":42.32207,"y":0.19},{"x":42.32233,"y":4.76},{"x":42.32256,"y":4.45},{"x":42.32283,"y":0.65},{"x":42.32306,"y":0.84},{"x":42.32329,"y":0.42},{"x":42.32356,"y":0.96},{"x":42.32382,"y":0.81},{"x":42.32415,"y":0.08},{"x":42.32461,"y":0.08},{"x":42.32488,"y":0.71},{"x":42.32511,"y":0.69},{"x":42.32537,"y":0.38},{"x":42.3257,"y":0.19},{"x":42.32603,"y":0.35},{"x":42.32637,"y":1.0},{"x":42.3266,"y":0.77},{"x":42.32693,"y":1.11},{"x":42.32726,"y":0.65},{"x":42.32759,"y":0.08},{"x":42.32818,"y":0.19},{"x":42.32858,"y":0.96},{"x":42.32884,"y":0.46},{"x":42.32901,"y":0.88},{"x":42.32927,"y":2.71},{"x":42.32951,"y":1.04},{"x":42.32984,"y":0.5},{"x":42.3301,"y":0.46},{"x":42.3304,"y":1.27},{"x":42.33076,"y":1.5},{"x":42.33109,"y":0.27},{"x":42.33139,"y":0.08},{"x":42.33175,"y":0.38},{"x":42.33208,"y":0.08},{"x":42.33254,"y":0.19},{"x":42.33281,"y":0.96},{"x":42.33307,"y":1.9},{"x":42.3333,"y":0.73},{"x":42.33354,"y":0.19},{"x":42.3338,"y":0.12},{"x":42.33413,"y":0.27},{"x":42.33453,"y":0.54},{"x":42.33486,"y":0.38},{"x":42.33512,"y":0.19},{"x":42.33545,"y":0.92},{"x":42.33578,"y":1.28},{"x":42.33605,"y":0.96},{"x":42.33628,"y":0.96}
],
"hl":[
{"x":42.03519,"y":1.44,"c":"o","s":1},{"x":42.03542,"y":1.04,"c":"o","s":1},
{"x":42.03893,"y":0.41,"c":"o","s":2},{"x":42.03913,"y":0.23,"c":"o","s":2},
{"x":42.04155,"y":0.13,"c":"p","s":3},{"x":42.04182,"y":0.04,"c":"p","s":3},
{"x":42.04257,"y":0.39,"c":"o","s":4},{"x":42.04284,"y":0.08,"c":"o","s":4},
{"x":42.04441,"y":0.08,"c":"o","s":5},{"x":42.04468,"y":0.37,"c":"o","s":5},
{"x":42.04591,"y":0.08,"c":"o","s":6},{"x":42.04621,"y":0.77,"c":"o","s":6},{"x":42.04642,"y":0.81,"c":"o","s":6},
{"x":42.04978,"y":1.58,"c":"o","s":7},{"x":42.05006,"y":0.58,"c":"o","s":7},
{"x":42.05294,"y":1.34,"c":"o","s":8},{"x":42.05315,"y":1.98,"c":"o","s":8},
{"x":42.05397,"y":0.19,"c":"o","s":9},{"x":42.05441,"y":0.42,"c":"o","s":9},{"x":42.05482,"y":0.04,"c":"o","s":9},
{"x":42.05567,"y":0.59,"c":"b","s":10},{"x":42.05591,"y":0.15,"c":"b","s":10},
{"x":42.05662,"y":0.5,"c":"o","s":11},{"x":42.05693,"y":0.12,"c":"o","s":11},
{"x":42.0617,"y":0.5,"c":"b","s":12},{"x":42.0619,"y":0.04,"c":"b","s":12},
{"x":42.06231,"y":0.73,"c":"b","s":13},{"x":42.06265,"y":0.04,"c":"b","s":13},
{"x":42.06377,"y":0.35,"c":"o","s":14},{"x":42.06401,"y":0.12,"c":"o","s":14},
{"x":42.06667,"y":2.27,"c":"o","s":15},{"x":42.06694,"y":1.92,"c":"o","s":15},
{"x":42.06892,"y":0.12,"c":"o","s":16},{"x":42.06902,"y":0.3,"c":"o","s":16},
{"x":42.07042,"y":1.99,"c":"b","s":17},{"x":42.07066,"y":0.35,"c":"b","s":17},
{"x":42.0712,"y":0.38,"c":"p","s":18},{"x":42.07151,"y":0.12,"c":"p","s":18},
{"x":42.07347,"y":0.19,"c":"o","s":19},{"x":42.07381,"y":0.38,"c":"o","s":19},
{"x":42.07585,"y":0.12,"c":"o","s":20},{"x":42.07609,"y":0.31,"c":"o","s":20},
{"x":42.07892,"y":0.51,"c":"b","s":21},{"x":42.07915,"y":0.23,"c":"b","s":21},
{"x":42.08045,"y":0.33,"c":"o","s":22},{"x":42.08068,"y":0.19,"c":"o","s":22},
{"x":42.08096,"y":0.04,"c":"b","s":23},{"x":42.0813,"y":0.5,"c":"b","s":23},
{"x":42.08446,"y":0.71,"c":"b","s":24},{"x":42.0847,"y":0.12,"c":"b","s":24},
{"x":42.08664,"y":0.33,"c":"b","s":25},{"x":42.08691,"y":0.15,"c":"b","s":25},
{"x":42.09076,"y":0.77,"c":"o","s":26},{"x":42.09106,"y":0.42,"c":"o","s":26},
{"x":42.09345,"y":0.28,"c":"o","s":27},{"x":42.09389,"y":0.08,"c":"o","s":27},
{"x":42.10519,"y":0.17,"c":"o","s":28},{"x":42.10546,"y":0.04,"c":"o","s":28},
{"x":42.10985,"y":3.0,"c":"o","s":29},{"x":42.11002,"y":3.96,"c":"o","s":29},
{"x":42.11812,"y":0.19,"c":"o","s":30},{"x":42.11846,"y":0.58,"c":"o","s":30},{"x":42.1189,"y":1.84,"c":"o","s":30},
{"x":42.12682,"y":0.54,"c":"o","s":31},{"x":42.12716,"y":0.12,"c":"o","s":31},
{"x":42.12767,"y":0.33,"c":"b","s":32},{"x":42.12791,"y":0.08,"c":"b","s":32},
{"x":42.12886,"y":0.27,"c":"o","s":33},{"x":42.12913,"y":0.88,"c":"o","s":33},
{"x":42.13022,"y":0.08,"c":"o","s":34},{"x":42.13073,"y":0.13,"c":"o","s":34},
{"x":42.13536,"y":3.13,"c":"p","s":35},{"x":42.1355,"y":1.65,"c":"p","s":35},{"x":42.1356,"y":0.04,"c":"p","s":35},
{"x":42.13689,"y":0.64,"c":"o","s":36},{"x":42.13713,"y":0.08,"c":"o","s":36},
{"x":42.13975,"y":1.15,"c":"b","s":37},{"x":42.14002,"y":0.81,"c":"b","s":37},
{"x":42.1407,"y":0.77,"c":"o","s":38},{"x":42.14091,"y":1.55,"c":"o","s":38},
{"x":42.14394,"y":0.23,"c":"o","s":39},{"x":42.14418,"y":0.12,"c":"o","s":39},
{"x":42.14462,"y":1.88,"c":"o","s":40},{"x":42.14486,"y":0.88,"c":"o","s":40},
{"x":42.1502,"y":0.88,"c":"b","s":41},{"x":42.15037,"y":0.08,"c":"b","s":41},
{"x":42.15142,"y":0.08,"c":"b","s":42},{"x":42.15173,"y":0.46,"c":"b","s":42},
{"x":42.16437,"y":2.8,"c":"o","s":43},{"x":42.1645,"y":6.0,"c":"o","s":43},{"x":42.16462,"y":11.0,"c":"o","s":43},{"x":42.16473,"y":18.0,"c":"o","s":43},{"x":42.16483,"y":21.8,"c":"o","s":43},{"x":42.16493,"y":16.0,"c":"o","s":43},{"x":42.16503,"y":5.0,"c":"o","s":43},{"x":42.16513,"y":1.5,"c":"o","s":43},
{"x":42.17099,"y":2.27,"c":"o","s":44},{"x":42.17133,"y":0.04,"c":"o","s":44},
{"x":42.1749,"y":1.27,"c":"b","s":45},{"x":42.17521,"y":0.31,"c":"b","s":45},
{"x":42.1765,"y":4.0,"c":"o","s":46},{"x":42.17661,"y":7.14,"c":"o","s":46},{"x":42.17685,"y":5.3,"c":"o","s":46},
{"x":42.18197,"y":0.5,"c":"b","s":47},{"x":42.18207,"y":20.0,"c":"b","s":47},{"x":42.18215,"y":36.0,"c":"b","s":47},{"x":42.18228,"y":43.9,"c":"b","s":47},
{"x":42.18606,"y":0.12,"c":"b","s":48},{"x":42.1863,"y":1.38,"c":"b","s":48},
{"x":42.18687,"y":6.34,"c":"o","s":49},{"x":42.18715,"y":4.57,"c":"o","s":49},{"x":42.18738,"y":0.27,"c":"o","s":49},
{"x":42.19123,"y":0.38,"c":"b","s":50},{"x":42.19157,"y":1.34,"c":"b","s":50},
{"x":42.20093,"y":1.57,"c":"o","s":51},{"x":42.2012,"y":1.15,"c":"o","s":51},
{"x":42.2029,"y":1.34,"c":"b","s":52},{"x":42.20314,"y":0.12,"c":"b","s":52},
{"x":42.20596,"y":0.81,"c":"b","s":53},{"x":42.2062,"y":0.58,"c":"b","s":53},
{"x":42.20681,"y":1.31,"c":"p","s":54},{"x":42.20705,"y":0.08,"c":"p","s":54},
{"x":42.2109,"y":2.19,"c":"o","s":55},{"x":42.21114,"y":1.27,"c":"o","s":55},
{"x":42.21141,"y":0.58,"c":"b","s":56},{"x":42.21165,"y":0.81,"c":"b","s":56},
{"x":42.21233,"y":0.27,"c":"p","s":57},{"x":42.21257,"y":0.35,"c":"p","s":57},
{"x":42.22033,"y":0.12,"c":"o","s":58},{"x":42.22067,"y":0.38,"c":"o","s":58},
{"x":42.22638,"y":0.23,"c":"o","s":59},{"x":42.22672,"y":0.12,"c":"o","s":59},
{"x":42.22917,"y":1.33,"c":"o","s":60},{"x":42.22951,"y":0.08,"c":"o","s":60},
{"x":42.23387,"y":0.04,"c":"b","s":61},{"x":42.23438,"y":0.42,"c":"b","s":61},
{"x":42.24044,"y":0.08,"c":"o","s":62},{"x":42.24068,"y":0.81,"c":"o","s":62},
{"x":42.24306,"y":0.08,"c":"o","s":63},{"x":42.2434,"y":0.81,"c":"o","s":63},{"x":42.24384,"y":1.27,"c":"o","s":63},
{"x":42.24955,"y":1.0,"c":"o","s":64},{"x":42.24975,"y":1.0,"c":"o","s":64},
{"x":42.24995,"y":1.0,"c":"b","s":65},{"x":42.2501,"y":1.0,"c":"b","s":65},
{"x":42.25313,"y":0.82,"c":"o","s":66},{"x":42.25344,"y":0.08,"c":"o","s":66},
{"x":42.25888,"y":0.77,"c":"o","s":67},{"x":42.25939,"y":1.38,"c":"o","s":67},
{"x":42.26195,"y":1.27,"c":"b","s":68},{"x":42.26212,"y":1.38,"c":"b","s":68},
{"x":42.26389,"y":1.36,"c":"b","s":69},{"x":42.26416,"y":0.5,"c":"b","s":69},
{"x":42.27709,"y":0.58,"c":"o","s":70},{"x":42.27753,"y":1.56,"c":"o","s":70},
{"x":42.28219,"y":0.71,"c":"b","s":71},{"x":42.28243,"y":0.65,"c":"b","s":71},
{"x":42.28389,"y":2.42,"c":"o","s":72},{"x":42.28406,"y":3.53,"c":"o","s":72},{"x":42.2844,"y":0.42,"c":"o","s":72},
{"x":42.28543,"y":0.88,"c":"b","s":73},{"x":42.2856,"y":10.0,"c":"b","s":73},{"x":42.28572,"y":23.0,"c":"b","s":73},{"x":42.28594,"y":29.5,"c":"b","s":73},{"x":42.2861,"y":23.0,"c":"b","s":73},
{"x":42.29209,"y":0.12,"c":"b","s":74},{"x":42.29256,"y":1.69,"c":"b","s":74},
{"x":42.29685,"y":0.77,"c":"o","s":75},{"x":42.29705,"y":0.84,"c":"o","s":75},{"x":42.29728,"y":1.27,"c":"o","s":75},{"x":42.29761,"y":1.57,"c":"o","s":75},{"x":42.29794,"y":1.23,"c":"o","s":75},
{"x":42.29794,"y":1.23,"c":"p","s":76},{"x":42.29827,"y":1.11,"c":"p","s":76},
{"x":42.30194,"y":6.7,"c":"o","s":77},{"x":42.30214,"y":0.88,"c":"o","s":77},
{"x":42.30911,"y":0.23,"c":"o","s":78},{"x":42.30934,"y":0.08,"c":"o","s":78},
{"x":42.31232,"y":0.88,"c":"o","s":79},{"x":42.31248,"y":5.9,"c":"o","s":79},{"x":42.31265,"y":11.2,"c":"o","s":79},{"x":42.31281,"y":14.0,"c":"o","s":79},
{"x":42.31695,"y":0.08,"c":"o","s":80},{"x":42.31728,"y":0.27,"c":"o","s":80},
{"x":42.31976,"y":0.5,"c":"o","s":81},{"x":42.32009,"y":0.31,"c":"o","s":81},
{"x":42.32091,"y":3.19,"c":"p","s":82},{"x":42.32108,"y":4.42,"c":"p","s":82},{"x":42.32131,"y":0.04,"c":"p","s":82},
{"x":42.32693,"y":1.11,"c":"o","s":83},{"x":42.32726,"y":0.65,"c":"o","s":83},
{"x":42.32901,"y":0.88,"c":"b","s":84},{"x":42.32927,"y":2.71,"c":"b","s":84},
{"x":42.3301,"y":0.46,"c":"o","s":85},{"x":42.3304,"y":1.27,"c":"o","s":85},
{"x":42.33354,"y":0.19,"c":"p","s":86},{"x":42.3338,"y":0.12,"c":"p","s":86}
]
},
"layer":[
{"data":{"name":"gx"},"mark":{"type":"rule","color":"#F2F2F2","strokeWidth":2.5},
 "encoding":{"x":{"field":"v","type":"quantitative","scale":{"domain":[42.0054,42.3518],"nice":false,"zero":false},
   "axis":{"values":[42.1,42.2,42.3],"format":".1f","title":"position (Mb)","grid":true,"gridColor":"#FFFFFF","gridWidth":5,"domain":false,"ticks":true,"tickColor":"#7F7F7F","tickSize":15,"tickWidth":5,"labelColor":"#7F7F7F","labelFontSize":34,"labelFont":"Liberation Sans","labelPadding":9,"labelFlush":false,"labelOverlap":false,"titleFont":"Liberation Sans","titleFontSize":45,"titleFontWeight":"normal","titleColor":"#000000","titlePadding":4}}}},
{"data":{"name":"gy"},"mark":{"type":"rule","color":"#F2F2F2","strokeWidth":2.5},
 "encoding":{"y":{"field":"v","type":"quantitative","scale":{"domain":[-2.4,50.07],"nice":false,"zero":false},
   "axis":{"values":[0,10,20,30,40],"title":"−log₁₀(p)","grid":true,"gridColor":"#FFFFFF","gridWidth":5,"domain":false,"ticks":true,"tickColor":"#7F7F7F","tickSize":15,"tickWidth":5,"labelColor":"#7F7F7F","labelFontSize":34,"labelFont":"Liberation Sans","labelPadding":10,"labelOverlap":false,"titleFont":"Liberation Sans","titleFontSize":45,"titleFontWeight":"normal","titleColor":"#000000","titlePadding":14}}}},
{"data":{"name":"main"},"mark":{"type":"area","color":"#E31A1C","interpolate":"linear","opacity":1},
 "encoding":{
  "x":{"field":"x","type":"quantitative","scale":{"domain":[42.0054,42.3518],"nice":false,"zero":false}},
  "y":{"field":"y","type":"quantitative","stack":null,"scale":{"domain":[-2.4,50.07],"nice":false,"zero":false}},
  "y2":{"datum":0}
 }},
{"data":{"name":"hl"},"mark":{"type":"area","interpolate":"linear","opacity":1},
 "encoding":{
  "x":{"field":"x","type":"quantitative","scale":{"domain":[42.0054,42.3518],"nice":false,"zero":false}},
  "y":{"field":"y","type":"quantitative","stack":null,"scale":{"domain":[-2.4,50.07],"nice":false,"zero":false}},
  "y2":{"datum":0},
  "color":{"field":"c","type":"nominal","scale":{"domain":["o","b","p"],"range":["#FF7F00","#1F78B4","#6A3D9A"]},"legend":null},
  "detail":{"field":"s","type":"nominal"}
 }},
{"data":{"name":"ann"},"mark":{"type":"rule","color":"#000000","strokeWidth":5,"strokeDash":[14,14]},
 "encoding":{
  "x":{"field":"x","type":"quantitative","scale":{"domain":[42.0054,42.3518],"nice":false,"zero":false}},
  "y":{"field":"y","type":"quantitative","scale":{"domain":[-2.4,50.07],"nice":false,"zero":false}},
  "y2":{"field":"y2"}
 }},
{"data":{"name":"ann"},"mark":{"type":"point","filled":true,"size":280,"color":"#000000","opacity":1},
 "encoding":{
  "x":{"field":"x","type":"quantitative","scale":{"domain":[42.0054,42.3518],"nice":false,"zero":false}},
  "y":{"field":"y","type":"quantitative","scale":{"domain":[-2.4,50.07],"nice":false,"zero":false}}
 }},
{"data":{"name":"ann"},"mark":{"type":"text","font":"Liberation Sans","fontSize":39,"baseline":"alphabetic","align":"center","color":"#000000"},
 "encoding":{
  "x":{"field":"x","type":"quantitative","scale":{"domain":[42.0054,42.3518],"nice":false,"zero":false}},
  "y":{"field":"ty","type":"quantitative","scale":{"domain":[-2.4,50.07],"nice":false,"zero":false}},
  "text":{"field":"label"}
 }}
]
}
